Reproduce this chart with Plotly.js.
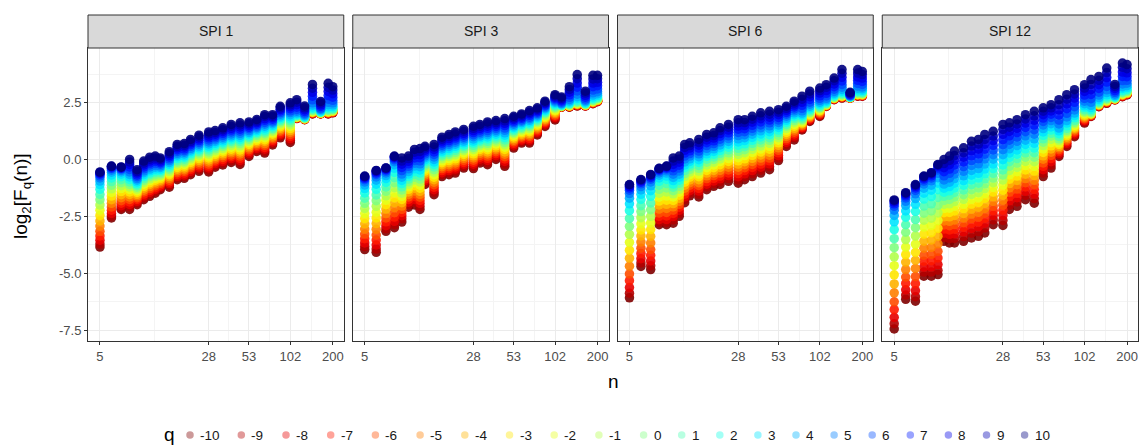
<!DOCTYPE html>
<html><head><meta charset="utf-8">
<script src="https://cdn.plot.ly/plotly-3.0.1.min.js"></script>
<style>html,body{margin:0;padding:0;background:#fff}#chart{width:1145px;height:445px}</style>
</head><body><div id="chart"></div>
<script>
// ---------------- data ----------------
const facetTitles = ['SPI 1', 'SPI 3', 'SPI 6', 'SPI 12'];
const qValues = [-10,-9,-8,-7,-6,-5,-4,-3,-2,-1,0,1,2,3,4,5,6,7,8,9,10];
const nValues = [5,6,7,8,9,10,11,12,13,15,17,19,21,24,28,31,35,40,46,53,60,68,77,87,102,113,128,145,165,186,200];
const xTickVals = [5, 28, 53, 102, 200];
const yTickVals = [-7.5, -5, -2.5, 0, 2.5];
// colour of each q (reversed jet palette), same order as qValues
const qColors = ['#800000','#B30000','#E60000','#FF1A00','#FF4D00','#FF8000','#FFB300','#FFE600','#E6FF1A','#B3FF4D',
                 '#80FF80','#4DFFB3','#1AFFE6','#00E6FF','#00B3FF','#0080FF','#004DFF','#001AFF','#0000E6','#0000B3','#00007F'];

// log2[Fq(n)]: one row per n (same order as nValues), columns q = -10 ... 10
const fqSPI1 = [
[-3.85,-3.72,-3.55,-3.36,-3.16,-2.93,-2.70,-2.46,-2.23,-2.00,-1.77,-1.54,-1.31,-1.11,-0.95,-0.81,-0.72,-0.65,-0.60,-0.57,-0.55],
[-2.57,-2.48,-2.37,-2.23,-2.09,-1.93,-1.77,-1.61,-1.45,-1.29,-1.13,-0.97,-0.81,-0.68,-0.56,-0.47,-0.40,-0.36,-0.32,-0.30,-0.29],
[-2.20,-2.13,-2.03,-1.92,-1.81,-1.68,-1.55,-1.41,-1.28,-1.15,-1.02,-0.89,-0.76,-0.65,-0.55,-0.48,-0.42,-0.39,-0.36,-0.34,-0.33],
[-2.2,-2.09,-1.98,-1.87,-1.76,-1.65,-1.54,-1.43,-1.32,-1.21,-1.1,-0.99,-0.88,-0.77,-0.66,-0.55,-0.44,-0.33,-0.22,-0.11,0],
[-1.99,-1.91,-1.84,-1.76,-1.68,-1.6,-1.53,-1.45,-1.37,-1.3,-1.22,-1.14,-1.07,-0.99,-0.91,-0.84,-0.76,-0.68,-0.6,-0.53,-0.45],
[-1.77,-1.69,-1.6,-1.52,-1.43,-1.35,-1.26,-1.18,-1.09,-1.01,-0.92,-0.84,-0.75,-0.67,-0.58,-0.5,-0.41,-0.33,-0.24,-0.16,-0.07],
[-1.62,-1.53,-1.45,-1.36,-1.28,-1.19,-1.1,-1.02,-0.93,-0.85,-0.76,-0.67,-0.59,-0.5,-0.42,-0.33,-0.24,-0.16,-0.07,0.01,0.1],
[-1.48,-1.4,-1.32,-1.24,-1.15,-1.07,-0.99,-0.91,-0.83,-0.75,-0.67,-0.58,-0.5,-0.42,-0.34,-0.26,-0.18,-0.09,-0.01,0.07,0.15],
[-1.33,-1.26,-1.19,-1.12,-1.05,-0.98,-0.91,-0.84,-0.77,-0.7,-0.63,-0.56,-0.49,-0.42,-0.35,-0.28,-0.21,-0.14,-0.07,0,0.07],
[-1.22,-1.14,-1.06,-0.99,-0.91,-0.83,-0.75,-0.67,-0.6,-0.52,-0.44,-0.36,-0.28,-0.21,-0.13,-0.05,0.03,0.11,0.18,0.26,0.34],
[-0.89,-0.81,-0.74,-0.66,-0.58,-0.5,-0.43,-0.35,-0.27,-0.19,-0.12,-0.04,0.04,0.12,0.2,0.27,0.35,0.43,0.51,0.58,0.66],
[-0.83,-0.75,-0.68,-0.6,-0.52,-0.45,-0.37,-0.29,-0.22,-0.14,-0.07,0.01,0.09,0.16,0.24,0.32,0.39,0.47,0.55,0.62,0.7],
[-0.67,-0.59,-0.52,-0.44,-0.36,-0.28,-0.21,-0.13,-0.05,0.03,0.11,0.18,0.26,0.34,0.42,0.49,0.57,0.65,0.73,0.8,0.88],
[-0.52,-0.44,-0.36,-0.28,-0.2,-0.12,-0.04,0.04,0.12,0.2,0.28,0.35,0.43,0.51,0.59,0.67,0.75,0.83,0.91,0.99,1.07],
[-0.55,-0.46,-0.37,-0.29,-0.2,-0.11,-0.02,0.07,0.15,0.24,0.33,0.42,0.51,0.59,0.68,0.77,0.86,0.95,1.03,1.12,1.21],
[-0.34,-0.26,-0.18,-0.1,-0.02,0.06,0.14,0.22,0.3,0.38,0.47,0.55,0.63,0.71,0.79,0.87,0.95,1.03,1.11,1.19,1.27],
[-0.24,-0.16,-0.08,0,0.09,0.17,0.25,0.33,0.41,0.49,0.58,0.66,0.74,0.82,0.9,0.98,1.06,1.15,1.23,1.31,1.39],
[-0.13,-0.05,0.04,0.12,0.2,0.29,0.37,0.45,0.54,0.62,0.71,0.79,0.87,0.96,1.04,1.12,1.21,1.29,1.37,1.46,1.54],
[-0.22,-0.13,-0.04,0.05,0.15,0.24,0.33,0.42,0.51,0.6,0.7,0.79,0.88,0.97,1.06,1.15,1.24,1.33,1.43,1.52,1.61],
[0.13,0.21,0.28,0.36,0.43,0.51,0.59,0.66,0.74,0.81,0.89,0.97,1.04,1.12,1.19,1.27,1.35,1.42,1.5,1.57,1.65],
[0.35,0.42,0.49,0.56,0.63,0.7,0.77,0.84,0.91,0.98,1.06,1.13,1.2,1.27,1.34,1.41,1.48,1.55,1.62,1.69,1.76],
[0.28,0.36,0.45,0.53,0.62,0.7,0.79,0.87,0.96,1.04,1.13,1.21,1.29,1.38,1.46,1.55,1.63,1.72,1.8,1.89,1.97],
[0.64,0.71,0.77,0.84,0.91,0.97,1.04,1.11,1.17,1.24,1.31,1.37,1.44,1.5,1.57,1.64,1.7,1.77,1.84,1.9,1.97],
[0.95,1.02,1.09,1.16,1.23,1.3,1.37,1.44,1.51,1.58,1.65,1.71,1.78,1.85,1.92,1.99,2.06,2.13,2.2,2.27,2.34],
[0.75,0.84,0.92,1.01,1.1,1.19,1.27,1.36,1.45,1.53,1.62,1.71,1.79,1.88,1.97,2.06,2.14,2.23,2.32,2.4,2.49],
[1.8,1.81,1.82,1.83,1.83,1.84,1.85,1.86,1.87,1.88,1.9,1.93,1.96,2,2.05,2.12,2.2,2.3,2.41,2.52,2.63],
[1.75,1.76,1.76,1.77,1.77,1.78,1.79,1.79,1.8,1.81,1.82,1.84,1.86,1.89,1.93,1.98,2.04,2.11,2.19,2.27,2.35],
[2,2.01,2.03,2.04,2.05,2.07,2.08,2.09,2.1,2.13,2.16,2.2,2.25,2.31,2.39,2.49,2.62,2.78,2.95,3.13,3.3],
[2,2.01,2.01,2.02,2.02,2.03,2.03,2.04,2.04,2.06,2.07,2.08,2.1,2.13,2.17,2.21,2.26,2.33,2.4,2.48,2.55],
[2,2.01,2.03,2.04,2.05,2.07,2.08,2.09,2.11,2.14,2.16,2.2,2.26,2.32,2.41,2.51,2.65,2.81,2.99,3.17,3.35],
[2.05,2.06,2.07,2.08,2.1,2.11,2.12,2.13,2.14,2.17,2.19,2.22,2.27,2.33,2.4,2.49,2.6,2.74,2.89,3.05,3.2]
];
const fqSPI3 = [
[-3.96,-3.83,-3.67,-3.48,-3.28,-3.06,-2.83,-2.60,-2.38,-2.15,-1.93,-1.70,-1.47,-1.28,-1.12,-0.99,-0.89,-0.83,-0.78,-0.75,-0.73],
[-4.08,-3.94,-3.76,-3.54,-3.32,-3.07,-2.82,-2.57,-2.32,-2.06,-1.81,-1.56,-1.31,-1.09,-0.91,-0.77,-0.66,-0.59,-0.53,-0.50,-0.48],
[-3.16,-3.05,-2.91,-2.74,-2.57,-2.38,-2.18,-1.99,-1.79,-1.60,-1.40,-1.21,-1.01,-0.84,-0.71,-0.59,-0.51,-0.45,-0.41,-0.38,-0.37],
[-3.00,-2.87,-2.72,-2.53,-2.34,-2.12,-1.90,-1.68,-1.46,-1.24,-1.02,-0.80,-0.57,-0.39,-0.23,-0.10,-0.01,0.06,0.10,0.13,0.15],
[-2.75,-2.61,-2.47,-2.33,-2.19,-2.05,-1.90,-1.76,-1.62,-1.48,-1.34,-1.20,-1.06,-0.92,-0.78,-0.64,-0.49,-0.35,-0.21,-0.07,0.07],
[-2.1,-1.99,-1.88,-1.76,-1.65,-1.54,-1.43,-1.31,-1.2,-1.09,-0.98,-0.86,-0.75,-0.64,-0.53,-0.41,-0.3,-0.19,-0.08,0.04,0.15],
[-2.0,-1.88,-1.76,-1.63,-1.51,-1.39,-1.27,-1.15,-1.02,-0.9,-0.78,-0.66,-0.54,-0.41,-0.29,-0.17,-0.05,0.07,0.2,0.32,0.44],
[-2.2,-2.07,-1.93,-1.8,-1.66,-1.53,-1.4,-1.26,-1.13,-0.99,-0.86,-0.73,-0.59,-0.46,-0.32,-0.19,-0.06,0.08,0.21,0.35,0.48],
[-1.1,-1.02,-0.93,-0.85,-0.76,-0.68,-0.6,-0.51,-0.43,-0.34,-0.26,-0.18,-0.09,-0.01,0.08,0.16,0.24,0.33,0.41,0.5,0.58],
[-1.55,-1.44,-1.33,-1.22,-1.11,-1.0,-0.89,-0.78,-0.67,-0.56,-0.45,-0.33,-0.22,-0.11,0.0,0.11,0.22,0.33,0.44,0.55,0.66],
[-0.75,-0.66,-0.58,-0.49,-0.4,-0.32,-0.23,-0.14,-0.06,0.03,0.12,0.2,0.29,0.37,0.46,0.55,0.63,0.72,0.81,0.89,0.98],
[-0.67,-0.58,-0.49,-0.4,-0.32,-0.23,-0.14,-0.05,0.04,0.13,0.22,0.3,0.39,0.48,0.57,0.66,0.75,0.83,0.92,1.01,1.1],
[-0.6,-0.51,-0.42,-0.33,-0.24,-0.15,-0.06,0.03,0.12,0.21,0.31,0.4,0.49,0.58,0.67,0.76,0.85,0.94,1.03,1.12,1.21],
[-0.38,-0.3,-0.21,-0.13,-0.04,0.05,0.13,0.22,0.3,0.39,0.47,0.56,0.64,0.73,0.81,0.9,0.98,1.07,1.15,1.24,1.32],
[-0.4,-0.31,-0.21,-0.12,-0.03,0.07,0.16,0.25,0.34,0.44,0.53,0.62,0.72,0.81,0.9,1.0,1.09,1.18,1.27,1.37,1.46],
[-0.16,-0.08,0.01,0.1,0.18,0.27,0.35,0.44,0.52,0.61,0.69,0.78,0.86,0.95,1.03,1.12,1.2,1.29,1.37,1.46,1.54],
[-0.23,-0.14,-0.04,0.05,0.15,0.24,0.33,0.43,0.52,0.62,0.71,0.8,0.9,0.99,1.09,1.18,1.27,1.37,1.46,1.56,1.65],
[0.0,0.09,0.17,0.26,0.34,0.43,0.51,0.6,0.68,0.77,0.86,0.94,1.03,1.11,1.2,1.28,1.37,1.45,1.54,1.62,1.71],
[-0.3,-0.2,-0.09,0.02,0.12,0.23,0.33,0.44,0.54,0.65,0.75,0.86,0.96,1.07,1.17,1.28,1.38,1.49,1.59,1.7,1.8],
[0.5,0.57,0.64,0.71,0.78,0.85,0.92,0.99,1.06,1.13,1.2,1.27,1.34,1.41,1.48,1.55,1.62,1.69,1.76,1.83,1.9],
[0.72,0.78,0.85,0.91,0.98,1.04,1.1,1.17,1.23,1.3,1.36,1.42,1.49,1.55,1.62,1.68,1.74,1.81,1.87,1.94,2.0],
[0.72,0.79,0.86,0.93,1.01,1.08,1.15,1.22,1.29,1.36,1.44,1.51,1.58,1.65,1.72,1.79,1.86,1.94,2.01,2.08,2.15],
[1.08,1.14,1.2,1.26,1.32,1.38,1.44,1.5,1.56,1.62,1.68,1.73,1.79,1.85,1.91,1.97,2.03,2.09,2.15,2.21,2.27],
[1.45,1.51,1.56,1.62,1.67,1.73,1.78,1.84,1.89,1.95,2.01,2.06,2.12,2.17,2.23,2.28,2.34,2.39,2.45,2.5,2.56],
[1.74,1.8,1.85,1.91,1.96,2.02,2.07,2.13,2.18,2.24,2.3,2.35,2.41,2.46,2.52,2.57,2.63,2.68,2.74,2.79,2.85],
[2.3,2.3,2.31,2.31,2.32,2.32,2.33,2.33,2.34,2.35,2.35,2.37,2.39,2.41,2.44,2.47,2.52,2.57,2.63,2.69,2.75],
[2.3,2.31,2.32,2.33,2.34,2.35,2.35,2.36,2.37,2.39,2.41,2.44,2.47,2.52,2.57,2.64,2.73,2.84,2.96,3.08,3.2],
[2.35,2.36,2.38,2.39,2.41,2.42,2.43,2.45,2.46,2.49,2.52,2.56,2.61,2.68,2.76,2.87,3.01,3.18,3.36,3.55,3.73],
[2.35,2.36,2.36,2.37,2.38,2.38,2.39,2.4,2.4,2.42,2.43,2.45,2.47,2.51,2.55,2.6,2.66,2.74,2.82,2.92,3.0],
[2.45,2.46,2.48,2.49,2.5,2.51,2.53,2.54,2.55,2.58,2.6,2.64,2.69,2.75,2.83,2.93,3.05,3.2,3.36,3.54,3.7],
[2.54,2.55,2.56,2.57,2.59,2.6,2.61,2.62,2.63,2.66,2.68,2.71,2.76,2.82,2.89,2.98,3.1,3.24,3.39,3.55,3.7]
];
const fqSPI6 = [
[-6.08,-5.88,-5.63,-5.33,-5.03,-4.69,-4.34,-3.99,-3.64,-3.29,-2.94,-2.59,-2.25,-1.95,-1.70,-1.50,-1.35,-1.25,-1.18,-1.12,-1.10],
[-4.70,-4.55,-4.36,-4.13,-3.90,-3.63,-3.36,-3.10,-2.83,-2.56,-2.29,-2.03,-1.76,-1.53,-1.34,-1.19,-1.07,-1.00,-0.94,-0.90,-0.88],
[-4.84,-4.67,-4.46,-4.21,-3.96,-3.67,-3.38,-3.08,-2.79,-2.50,-2.21,-1.91,-1.62,-1.37,-1.16,-0.99,-0.87,-0.79,-0.72,-0.68,-0.66],
[-2.87,-2.77,-2.65,-2.50,-2.35,-2.18,-2.00,-1.83,-1.66,-1.48,-1.31,-1.13,-0.96,-0.81,-0.69,-0.59,-0.51,-0.46,-0.43,-0.40,-0.39],
[-2.87,-2.77,-2.64,-2.48,-2.33,-2.15,-1.97,-1.79,-1.61,-1.43,-1.25,-1.06,-0.88,-0.73,-0.60,-0.50,-0.42,-0.37,-0.33,-0.30,-0.29],
[-2.8,-2.66,-2.51,-2.37,-2.23,-2.08,-1.94,-1.8,-1.65,-1.51,-1.37,-1.22,-1.08,-0.93,-0.79,-0.65,-0.5,-0.36,-0.22,-0.07,0.07],
[-2.5,-2.37,-2.24,-2.1,-1.97,-1.84,-1.71,-1.57,-1.44,-1.31,-1.18,-1.04,-0.91,-0.78,-0.65,-0.51,-0.38,-0.25,-0.12,0.02,0.15],
[-1.9,-1.77,-1.64,-1.52,-1.39,-1.26,-1.13,-1.0,-0.88,-0.75,-0.62,-0.49,-0.36,-0.24,-0.11,0.02,0.15,0.28,0.4,0.53,0.66],
[-1.6,-1.48,-1.37,-1.25,-1.13,-1.02,-0.9,-0.78,-0.67,-0.55,-0.44,-0.32,-0.2,-0.09,0.03,0.15,0.26,0.38,0.5,0.61,0.73],
[-1.65,-1.52,-1.39,-1.27,-1.14,-1.02,-0.89,-0.76,-0.64,-0.51,-0.39,-0.26,-0.13,-0.01,0.12,0.25,0.37,0.5,0.63,0.75,0.88],
[-1.33,-1.21,-1.09,-0.97,-0.84,-0.72,-0.6,-0.48,-0.36,-0.24,-0.12,0.01,0.13,0.25,0.37,0.49,0.61,0.74,0.86,0.98,1.1],
[-1.18,-1.06,-0.95,-0.83,-0.71,-0.59,-0.48,-0.36,-0.24,-0.12,0.0,0.11,0.23,0.35,0.47,0.58,0.7,0.82,0.94,1.05,1.17],
[-1.1,-0.98,-0.85,-0.73,-0.6,-0.48,-0.35,-0.23,-0.1,0.02,0.15,0.27,0.39,0.52,0.64,0.77,0.89,1.02,1.14,1.27,1.39],
[-0.96,-0.84,-0.71,-0.59,-0.46,-0.34,-0.21,-0.09,0.04,0.17,0.29,0.42,0.54,0.67,0.79,0.92,1.04,1.17,1.29,1.42,1.54],
[-1.04,-0.9,-0.76,-0.62,-0.48,-0.34,-0.2,-0.06,0.08,0.22,0.36,0.49,0.63,0.77,0.91,1.05,1.19,1.33,1.47,1.61,1.75],
[-0.89,-0.76,-0.63,-0.49,-0.36,-0.23,-0.1,0.03,0.17,0.3,0.43,0.56,0.69,0.83,0.96,1.09,1.22,1.35,1.49,1.62,1.75],
[-0.75,-0.62,-0.49,-0.35,-0.22,-0.09,0.05,0.18,0.31,0.44,0.58,0.71,0.84,0.97,1.11,1.24,1.37,1.5,1.64,1.77,1.9],
[-0.6,-0.47,-0.34,-0.2,-0.07,0.06,0.2,0.33,0.46,0.59,0.73,0.86,0.99,1.12,1.26,1.39,1.52,1.65,1.79,1.92,2.05],
[-0.45,-0.32,-0.19,-0.06,0.06,0.19,0.32,0.45,0.58,0.71,0.84,0.96,1.09,1.22,1.35,1.48,1.61,1.73,1.86,1.99,2.12],
[-0.05,0.06,0.17,0.29,0.4,0.51,0.62,0.73,0.85,0.96,1.07,1.18,1.29,1.41,1.52,1.63,1.74,1.85,1.97,2.08,2.19],
[0.57,0.66,0.75,0.84,0.92,1.01,1.1,1.19,1.28,1.37,1.46,1.54,1.63,1.72,1.81,1.9,1.99,2.07,2.16,2.25,2.34],
[0.86,0.95,1.03,1.12,1.2,1.29,1.37,1.46,1.54,1.63,1.71,1.8,1.88,1.97,2.05,2.14,2.22,2.31,2.39,2.48,2.56],
[1.3,1.34,1.39,1.43,1.48,1.52,1.57,1.61,1.66,1.71,1.76,1.82,1.89,1.97,2.04,2.14,2.25,2.38,2.51,2.65,2.78],
[1.67,1.71,1.75,1.79,1.83,1.87,1.91,1.95,1.99,2.04,2.08,2.14,2.2,2.27,2.34,2.43,2.52,2.64,2.76,2.88,3.0],
[1.89,1.93,1.97,2.0,2.04,2.08,2.12,2.15,2.19,2.24,2.28,2.33,2.39,2.45,2.52,2.6,2.69,2.8,2.92,3.03,3.14],
[2.33,2.34,2.35,2.36,2.37,2.38,2.39,2.4,2.41,2.43,2.45,2.47,2.51,2.56,2.62,2.69,2.79,2.91,3.03,3.17,3.29],
[2.63,2.64,2.65,2.66,2.67,2.68,2.69,2.7,2.71,2.73,2.74,2.77,2.81,2.86,2.92,2.99,3.09,3.2,3.32,3.46,3.58],
[2.7,2.71,2.73,2.74,2.75,2.76,2.78,2.79,2.8,2.83,2.85,2.89,2.94,3.0,3.08,3.18,3.3,3.45,3.61,3.79,3.95],
[2.7,2.7,2.71,2.71,2.71,2.71,2.72,2.72,2.72,2.73,2.73,2.74,2.75,2.76,2.78,2.8,2.82,2.85,2.88,2.92,2.95],
[2.78,2.79,2.8,2.82,2.83,2.84,2.85,2.86,2.87,2.9,2.92,2.96,3.0,3.06,3.13,3.22,3.34,3.48,3.63,3.8,3.95],
[2.78,2.79,2.8,2.81,2.82,2.83,2.85,2.86,2.87,2.89,2.91,2.94,2.99,3.04,3.11,3.19,3.3,3.43,3.58,3.73,3.87]
];
const fqSPI12 = [
[-7.45,-7.22,-6.94,-6.60,-6.26,-5.86,-5.47,-5.07,-4.67,-4.28,-3.88,-3.48,-3.08,-2.74,-2.46,-2.23,-2.06,-1.95,-1.87,-1.81,-1.78],
[-6.15,-5.96,-5.73,-5.45,-5.17,-4.84,-4.51,-4.18,-3.85,-3.52,-3.20,-2.87,-2.54,-2.26,-2.02,-1.84,-1.69,-1.60,-1.53,-1.48,-1.46],
[-6.23,-6.03,-5.77,-5.46,-5.15,-4.79,-4.43,-4.08,-3.72,-3.36,-3.00,-2.64,-2.28,-1.97,-1.72,-1.51,-1.36,-1.25,-1.18,-1.13,-1.10],
[-5.13,-4.95,-4.73,-4.47,-4.21,-3.90,-3.59,-3.28,-2.97,-2.67,-2.36,-2.05,-1.74,-1.48,-1.26,-1.08,-0.95,-0.86,-0.80,-0.75,-0.73],
[-5.13,-4.95,-4.72,-4.45,-4.17,-3.86,-3.54,-3.22,-2.90,-2.58,-2.26,-1.95,-1.63,-1.35,-1.13,-0.94,-0.81,-0.72,-0.65,-0.60,-0.58],
[-5.06,-4.87,-4.62,-4.33,-4.04,-3.71,-3.37,-3.03,-2.69,-2.35,-2.01,-1.67,-1.33,-1.04,-0.80,-0.61,-0.46,-0.37,-0.29,-0.24,-0.22],
[-3.6,-3.42,-3.24,-3.06,-2.88,-2.7,-2.52,-2.34,-2.16,-1.98,-1.8,-1.62,-1.44,-1.26,-1.08,-0.9,-0.72,-0.54,-0.36,-0.18,0.0],
[-3.67,-3.48,-3.29,-3.1,-2.91,-2.72,-2.52,-2.33,-2.14,-1.95,-1.76,-1.57,-1.38,-1.19,-1.0,-0.81,-0.61,-0.42,-0.23,-0.04,0.15],
[-3.67,-3.47,-3.27,-3.06,-2.86,-2.66,-2.46,-2.26,-2.05,-1.85,-1.65,-1.45,-1.25,-1.04,-0.84,-0.64,-0.44,-0.24,-0.03,0.17,0.37],
[-3.6,-3.39,-3.18,-2.98,-2.78,-2.57,-2.37,-2.16,-1.96,-1.75,-1.55,-1.34,-1.13,-0.93,-0.72,-0.52,-0.31,-0.11,0.1,0.3,0.51],
[-3.45,-3.24,-3.03,-2.81,-2.6,-2.39,-2.18,-1.96,-1.75,-1.54,-1.33,-1.11,-0.9,-0.69,-0.48,-0.26,-0.05,0.16,0.38,0.59,0.8],
[-3.38,-3.17,-2.95,-2.74,-2.53,-2.32,-2.1,-1.89,-1.68,-1.46,-1.25,-1.04,-0.82,-0.61,-0.4,-0.19,0.03,0.24,0.45,0.67,0.88],
[-3.23,-3.01,-2.8,-2.58,-2.36,-2.15,-1.93,-1.71,-1.5,-1.28,-1.07,-0.85,-0.63,-0.42,-0.2,0.02,0.23,0.45,0.67,0.88,1.1],
[-2.87,-2.66,-2.46,-2.25,-2.05,-1.84,-1.64,-1.43,-1.23,-1.02,-0.82,-0.61,-0.4,-0.2,0.01,0.21,0.42,0.62,0.83,1.03,1.24],
[-2.9,-2.68,-2.46,-2.23,-2.01,-1.79,-1.57,-1.35,-1.12,-0.9,-0.68,-0.46,-0.24,-0.01,0.21,0.43,0.65,0.87,1.1,1.32,1.54],
[-2.2,-2.01,-1.82,-1.63,-1.44,-1.25,-1.06,-0.87,-0.68,-0.49,-0.3,-0.1,0.09,0.28,0.47,0.66,0.85,1.04,1.23,1.42,1.61],
[-2.06,-1.87,-1.68,-1.49,-1.3,-1.11,-0.92,-0.73,-0.54,-0.35,-0.16,0.04,0.23,0.42,0.61,0.8,0.99,1.18,1.37,1.56,1.75],
[-1.77,-1.58,-1.4,-1.21,-1.02,-0.84,-0.65,-0.46,-0.27,-0.09,0.1,0.29,0.47,0.66,0.85,1.04,1.22,1.41,1.6,1.78,1.97],
[-1.92,-1.72,-1.52,-1.31,-1.11,-0.91,-0.71,-0.51,-0.3,-0.1,0.1,0.3,0.5,0.71,0.91,1.11,1.31,1.51,1.72,1.92,2.12],
[-0.75,-0.6,-0.45,-0.3,-0.15,0.01,0.16,0.31,0.46,0.61,0.76,0.91,1.06,1.21,1.36,1.52,1.67,1.82,1.97,2.12,2.27],
[-0.38,-0.24,-0.1,0.04,0.18,0.32,0.46,0.6,0.74,0.88,1.02,1.15,1.29,1.43,1.57,1.71,1.85,1.99,2.13,2.27,2.41],
[0.13,0.21,0.28,0.36,0.43,0.51,0.58,0.66,0.73,0.83,0.91,1.01,1.13,1.26,1.38,1.56,1.73,1.96,2.18,2.41,2.63],
[0.57,0.64,0.71,0.78,0.84,0.91,0.98,1.05,1.12,1.21,1.28,1.37,1.48,1.6,1.71,1.87,2.03,2.23,2.44,2.65,2.85],
[1.0,1.06,1.12,1.19,1.25,1.31,1.37,1.43,1.5,1.58,1.64,1.72,1.83,1.93,2.04,2.18,2.32,2.51,2.7,2.88,3.07],
[1.6,1.65,1.7,1.75,1.8,1.85,1.9,1.95,2.01,2.07,2.12,2.19,2.28,2.36,2.45,2.56,2.68,2.83,2.99,3.14,3.29],
[1.89,1.91,1.92,1.94,1.95,1.97,1.99,2.0,2.02,2.05,2.08,2.13,2.2,2.28,2.38,2.51,2.67,2.86,3.07,3.3,3.51],
[2.32,2.33,2.35,2.36,2.37,2.39,2.4,2.41,2.43,2.45,2.48,2.52,2.57,2.64,2.72,2.83,2.96,3.12,3.29,3.48,3.65],
[2.47,2.49,2.5,2.52,2.53,2.55,2.56,2.58,2.59,2.63,2.66,2.7,2.76,2.84,2.94,3.06,3.21,3.4,3.6,3.82,4.02],
[2.62,2.63,2.63,2.64,2.65,2.65,2.66,2.67,2.67,2.69,2.7,2.72,2.75,2.78,2.82,2.88,2.95,3.03,3.12,3.21,3.3],
[2.76,2.77,2.79,2.8,2.82,2.83,2.85,2.86,2.88,2.91,2.94,2.98,3.04,3.12,3.2,3.32,3.47,3.65,3.84,4.05,4.24],
[2.84,2.85,2.87,2.88,2.89,2.91,2.92,2.93,2.95,2.97,3.0,3.04,3.09,3.16,3.24,3.35,3.48,3.64,3.81,3.99,4.17]
];

// ---------------- layout / drawing ----------------
const facetData = [fqSPI1, fqSPI3, fqSPI6, fqSPI12];
const W = 1145, H = 445;
const panelLeft = [88, 352.75, 617.5, 882.25], panelW = 255.75;
const plotTop = 48, plotBottom = 341, stripTop = 15;
const fx = px => px / W, fy = py => (H - py) / H;
const FONT = '"Liberation Sans", Arial, Helvetica, sans-serif';

const xMinor = xTickVals.slice(1).map((v, i) => Math.sqrt(v * xTickVals[i]));
const yMinor = yTickVals.slice(1).map((v, i) => (v + yTickVals[i]) / 2).concat([yTickVals[yTickVals.length - 1] + 1.25]);

const traces = [];
const layout = {
  width: W, height: H, margin: {l: 0, r: 0, t: 0, b: 0},
  paper_bgcolor: '#ffffff', plot_bgcolor: '#ffffff', showlegend: false,
  font: {family: FONT, color: '#4d4d4d', size: 12},
  shapes: [], annotations: []
};

facetData.forEach((rows, f) => {
  const ax = f === 0 ? '' : String(f + 1);
  qValues.forEach((q, j) => {
    traces.push({
      type: 'scatter', mode: 'markers',
      x: nValues, y: rows.map(r => r[j]),
      xaxis: 'x' + ax, yaxis: 'y' + ax, name: 'q = ' + q,
      marker: {size: 9.5, color: qColors[j], opacity: 0.9, line: {width: 0}},
      hovertemplate: 'n=%{x}<br>%{y}<extra>q=' + q + '</extra>'
    });
  });
  const x0 = fx(panelLeft[f]), x1 = fx(panelLeft[f] + panelW);
  layout['xaxis' + ax] = {
    domain: [x0, x1], anchor: 'y' + ax, type: 'log',
    range: [Math.log10(4.137), Math.log10(238)],
    tickmode: 'array', tickvals: xTickVals, ticktext: xTickVals.map(String),
    ticks: 'outside', ticklen: 3, tickwidth: 1, tickcolor: '#333333',
    tickfont: {family: FONT, size: 13, color: '#4d4d4d'},
    showline: true, mirror: true, linecolor: '#333333', linewidth: 1,
    showgrid: true, gridcolor: '#ebebeb', gridwidth: 1, zeroline: false,
    minor: {tickmode: 'array', tickvals: xMinor, showgrid: true, gridcolor: '#f4f4f4', gridwidth: 0.6, ticks: ''}
  };
  layout['yaxis' + ax] = {
    domain: [fy(plotBottom), fy(plotTop)], anchor: 'x' + ax,
    range: [-7.98, 4.9],
    tickmode: 'array', tickvals: yTickVals, ticktext: yTickVals.map(v => v.toFixed(1)),
    showticklabels: f === 0, ticks: f === 0 ? 'outside' : '', ticklen: 3, tickwidth: 1, tickcolor: '#333333',
    tickfont: {family: FONT, size: 13, color: '#4d4d4d'},
    showline: true, mirror: true, linecolor: '#333333', linewidth: 1,
    showgrid: true, gridcolor: '#ebebeb', gridwidth: 1, zeroline: false,
    minor: {tickmode: 'array', tickvals: yMinor, showgrid: true, gridcolor: '#f4f4f4', gridwidth: 0.6, ticks: ''}
  };
  // strip
  layout.shapes.push({type: 'rect', xref: 'paper', yref: 'paper', x0: x0, x1: x1,
    y0: fy(plotTop), y1: fy(stripTop), fillcolor: '#d9d9d9', line: {color: '#333333', width: 1}, layer: 'above'});
  layout.annotations.push({xref: 'paper', yref: 'paper', x: (x0 + x1) / 2, y: fy((plotTop + stripTop) / 2),
    text: facetTitles[f], showarrow: false, xanchor: 'center', yanchor: 'middle',
    font: {family: FONT, size: 14, color: '#1a1a1a'}});
});

// axis titles
layout.annotations.push({xref: 'paper', yref: 'paper', x: fx(613), y: fy(381), text: 'n', showarrow: false,
  xanchor: 'center', yanchor: 'middle', font: {family: FONT, size: 19, color: '#000000'}});
layout.annotations.push({xref: 'paper', yref: 'paper', x: fx(22), y: fy(196), text: 'log<sub>2</sub>[F<sub>q</sub>(n)]',
  showarrow: false, textangle: -90, xanchor: 'center', yanchor: 'middle', font: {family: FONT, size: 19, color: '#000000'}});

// legend (drawn as its own row under the panels)
layout.xaxis5 = {domain: [0, 1], range: [0, W], visible: false, fixedrange: true};
layout.yaxis5 = {domain: [0, 20 / H], range: [-1, 1], visible: false, fixedrange: true, anchor: 'x5'};
const legendX = [];
let lx = 190;
qValues.forEach((q, j) => { legendX.push(lx); lx += 31.5 + 6.6 * String(q).length; });
traces.push({type: 'scatter', mode: 'markers', x: legendX, y: qValues.map(() => 0), xaxis: 'x5', yaxis: 'y5',
  marker: {size: 7.5, color: qColors, opacity: 0.4, line: {width: 0}}, hoverinfo: 'skip', showlegend: false});
qValues.forEach((q, j) => {
  layout.annotations.push({xref: 'x5', yref: 'y5', x: legendX[j] + 8, y: 0, text: String(q), showarrow: false,
    xanchor: 'left', yanchor: 'middle', font: {family: FONT, size: 13.5, color: '#1a1a1a'}});
});
layout.annotations.push({xref: 'x5', yref: 'y5', x: 169, y: 0.1, text: 'q', showarrow: false,
  xanchor: 'center', yanchor: 'middle', font: {family: FONT, size: 19, color: '#000000'}});

Plotly.newPlot('chart', traces, layout, {displayModeBar: false, responsive: false, staticPlot: false});
</script>
</body></html>
